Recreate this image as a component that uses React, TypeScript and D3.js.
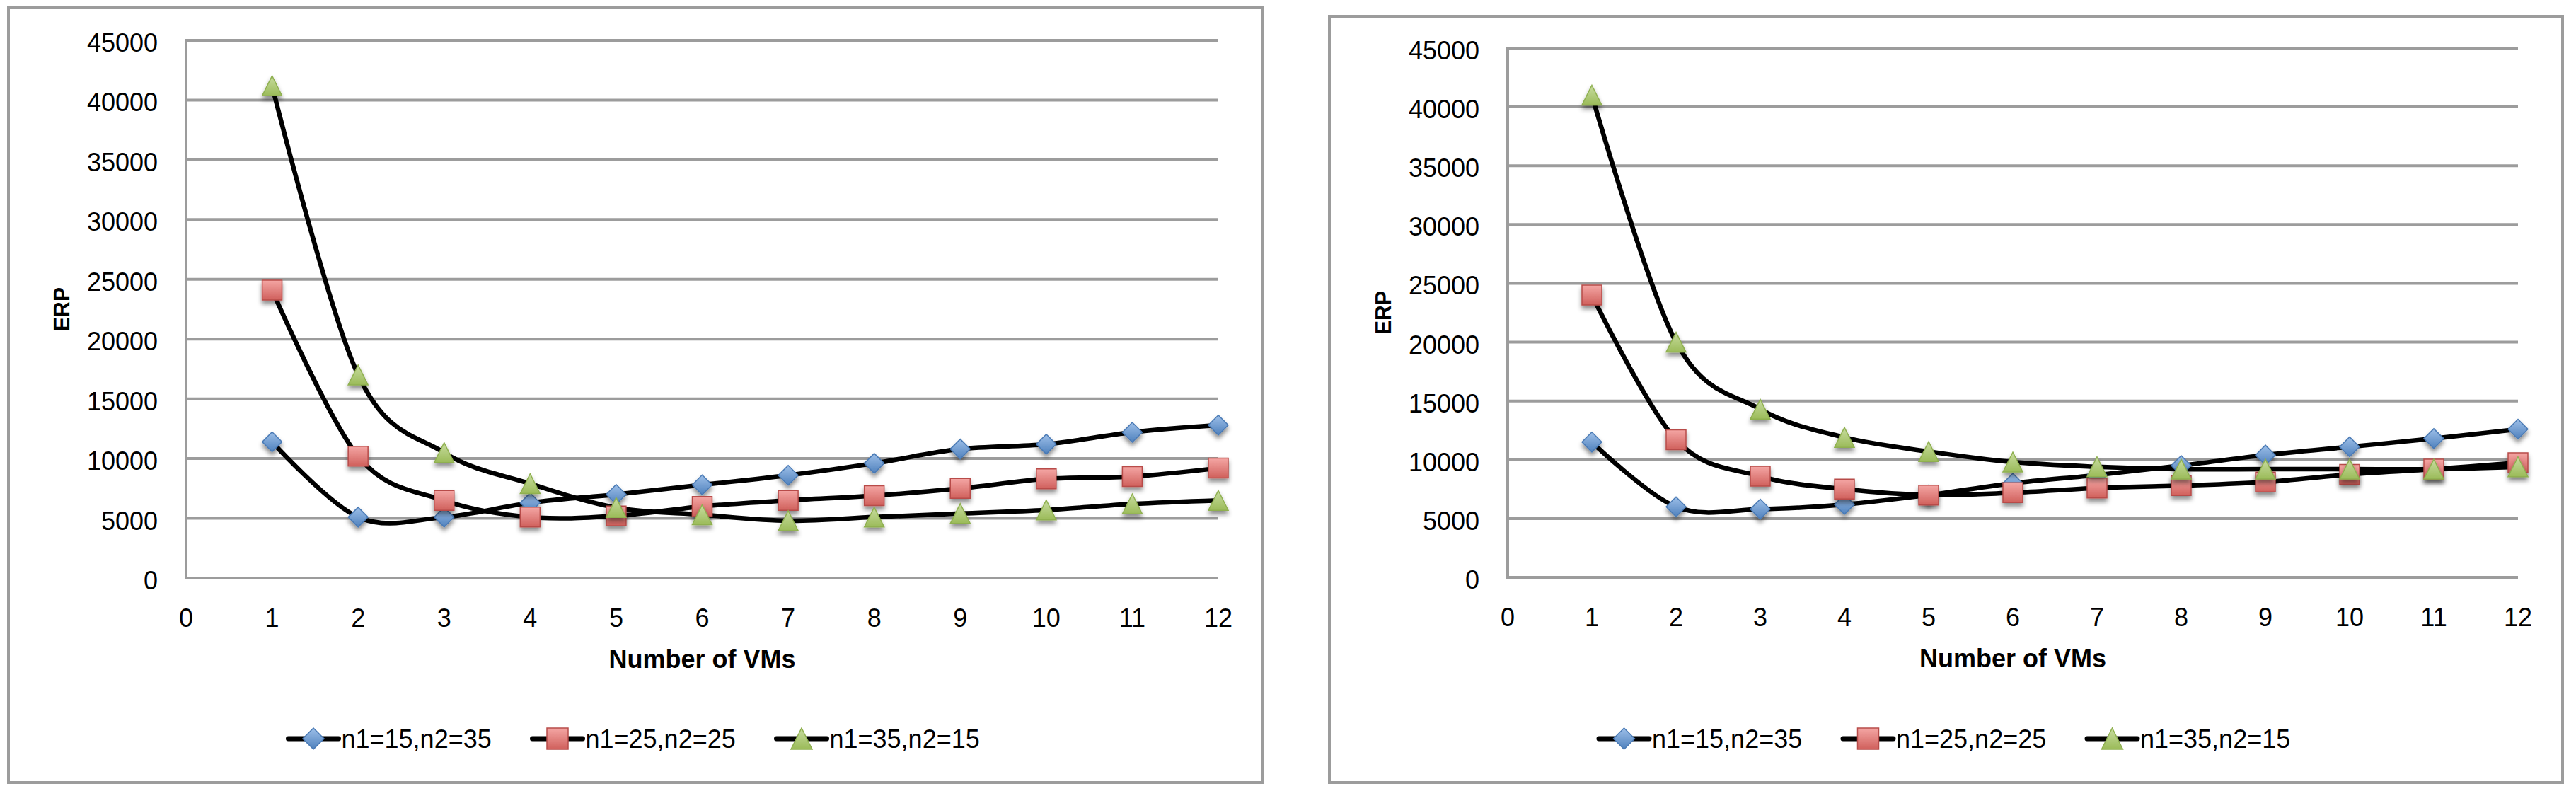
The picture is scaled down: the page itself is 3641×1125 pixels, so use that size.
import React, { useRef, useEffect } from "react";
import * as d3 from "d3";

// x values (number of VMs) and axis ticks
const vmCounts = [1, 2, 3, 4, 5, 6, 7, 8, 9, 10, 11, 12];
const xTickValues = [0, 1, 2, 3, 4, 5, 6, 7, 8, 9, 10, 11, 12];
const yTickValues = [0, 5000, 10000, 15000, 20000, 25000, 30000, 35000, 40000, 45000];
const seriesNames = ["n1=15,n2=35", "n1=25,n2=25", "n1=35,n2=15"];

// left chart
const leftN15 = [11400, 5100, 5100, 6300, 7000, 7800, 8600, 9600, 10800, 11200, 12200, 12800];
const leftN25 = [24100, 10200, 6500, 5100, 5200, 6000, 6500, 6900, 7500, 8300, 8500, 9200];
const leftN35 = [41200, 17000, 10500, 7900, 5900, 5300, 4800, 5100, 5400, 5700, 6200, 6500];

// right chart
const rightN15 = [11500, 6000, 5800, 6200, 7000, 8000, 8700, 9500, 10400, 11100, 11800, 12600];
const rightN25 = [24000, 11700, 8600, 7500, 7000, 7200, 7600, 7800, 8100, 8750, 9200, 9750];
const rightN35 = [41000, 20000, 14300, 11900, 10700, 9800, 9400, 9200, 9200, 9200, 9200, 9400];

const GRID = "#9c9c9c";
const FONT = "'Liberation Sans', Arial, sans-serif";
const markerKinds = ["diamond", "square", "triangle"];
const markerFills = ["url(#gBlue)", "url(#gRed)", "url(#gGreen)"];
const markerStrokes = ["#4a7ab5", "#b84c49", "#8fb050"];

interface Layout {
    frame: { x: number; y: number; w: number; h: number };
    plot: { left: number; right: number; top: number; bottom: number };
}

const markerPath = (kind: string, cx: number, cy: number, s: number) => {
    const h = s / 2;
    if (kind === "diamond") return `M${cx},${cy - h}L${cx + h},${cy}L${cx},${cy + h}L${cx - h},${cy}Z`;
    if (kind === "square") return `M${cx - h},${cy - h}h${s}v${s}h${-s}Z`;
    return `M${cx},${cy - h}L${cx + h},${cy + h}L${cx - h},${cy + h}Z`;
};

const ErpPanel: React.FC<{ series: number[][]; layout: Layout }> = ({ series, layout }) => {
    const gRef = useRef<SVGGElement | null>(null);

    useEffect(() => {
        if (!gRef.current) return;
        const g = d3.select(gRef.current);
        g.selectAll("*").remove();

        const { frame, plot } = layout;

        const x = d3.scaleLinear().domain([0, 12]).range([plot.left, plot.right]);
        const y = d3.scaleLinear().domain([0, 45000]).range([plot.bottom, plot.top]);

        // chart frame
        g.append("rect")
            .attr("x", frame.x)
            .attr("y", frame.y)
            .attr("width", frame.w)
            .attr("height", frame.h)
            .attr("fill", "#fff")
            .attr("stroke", GRID)
            .attr("stroke-width", 4);

        // horizontal gridlines
        g.selectAll(".grid")
            .data(yTickValues)
            .enter()
            .append("line")
            .attr("x1", plot.left)
            .attr("x2", plot.right)
            .attr("y1", (d) => y(d))
            .attr("y2", (d) => y(d))
            .attr("stroke", GRID)
            .attr("stroke-width", 4);

        // y axis line
        g.append("line")
            .attr("x1", plot.left)
            .attr("x2", plot.left)
            .attr("y1", plot.top - 2)
            .attr("y2", plot.bottom + 2)
            .attr("stroke", GRID)
            .attr("stroke-width", 4);

        // y tick labels
        g.selectAll(".ytick")
            .data(yTickValues)
            .enter()
            .append("text")
            .attr("x", plot.left - 40)
            .attr("y", (d) => y(d) + 16)
            .attr("text-anchor", "end")
            .attr("font-family", FONT)
            .attr("font-size", 36)
            .attr("fill", "#000")
            .text((d) => String(d));

        // x tick labels
        g.selectAll(".xtick")
            .data(xTickValues)
            .enter()
            .append("text")
            .attr("x", (d) => x(d))
            .attr("y", plot.bottom + 69)
            .attr("text-anchor", "middle")
            .attr("font-family", FONT)
            .attr("font-size", 36)
            .attr("fill", "#000")
            .text((d) => String(d));

        // axis titles
        g.append("text")
            .attr("x", (plot.left + plot.right) / 2)
            .attr("y", plot.bottom + 127)
            .attr("text-anchor", "middle")
            .attr("font-family", FONT)
            .attr("font-size", 36)
            .attr("font-weight", "bold")
            .text("Number of VMs");

        const erpX = plot.left - 176;
        const erpY = (plot.top + plot.bottom) / 2;
        g.append("text")
            .attr("transform", `translate(${erpX + 11},${erpY}) rotate(-90)`)
            .attr("text-anchor", "middle")
            .attr("font-family", FONT)
            .attr("font-size", 31)
            .attr("font-weight", "bold")
            .attr("textLength", 62)
            .attr("lengthAdjust", "spacingAndGlyphs")
            .text("ERP");

        // smoothed lines
        const line = d3
            .line<number>()
            .x((_, i) => x(vmCounts[i]))
            .y((d) => y(d))
            .curve(d3.curveCardinal.tension(0));

        g.selectAll(".series")
            .data(series)
            .enter()
            .append("path")
            .attr("d", (d) => line(d))
            .attr("fill", "none")
            .attr("stroke", "#000")
            .attr("stroke-width", 6.5)
            .attr("stroke-linejoin", "round");

        // markers
        series.forEach((values, si) => {
            g.selectAll(`.m${si}`)
                .data(values)
                .enter()
                .append("path")
                .attr("d", (d, i) => markerPath(markerKinds[si], x(vmCounts[i]), y(d), 28))
                .attr("fill", markerFills[si])
                .attr("stroke", markerStrokes[si])
                .attr("stroke-width", 1.5)
                .attr("filter", "url(#shadow)");
        });

        // legend
        const itemStep = 345;
        const lineLen = 71;
        const legendW = 2 * itemStep + lineLen + 220;
        const legendX = frame.x + frame.w / 2 - legendW / 2;
        const legendY = frame.y + frame.h - 62;
        seriesNames.forEach((name, si) => {
            const lx = legendX + si * itemStep;
            g.append("line")
                .attr("x1", lx)
                .attr("x2", lx + lineLen)
                .attr("y1", legendY)
                .attr("y2", legendY)
                .attr("stroke", "#000")
                .attr("stroke-width", 7)
                .attr("stroke-linecap", "round");
            g.append("path")
                .attr("d", markerPath(markerKinds[si], lx + lineLen / 2, legendY, 30))
                .attr("fill", markerFills[si])
                .attr("stroke", markerStrokes[si])
                .attr("stroke-width", 1.5);
            g.append("text")
                .attr("x", lx + lineLen + 4)
                .attr("y", legendY + 13)
                .attr("font-family", FONT)
                .attr("font-size", 36)
                .attr("fill", "#000")
                .text(name);
        });
    }, [series, layout]);

    return <g ref={gRef}></g>;
};

const leftLayout: Layout = {
    frame: { x: 12, y: 11, w: 1772, h: 1095 },
    plot: { left: 263, right: 1722, top: 57, bottom: 817 },
};

const rightLayout: Layout = {
    frame: { x: 1879, y: 23, w: 1743, h: 1083 },
    plot: { left: 2131, right: 3559, top: 68, bottom: 816 },
};

const leftSeries = [leftN15, leftN25, leftN35];
const rightSeries = [rightN15, rightN25, rightN35];

const App: React.FC = () => {
    return (
        <svg
            width={3641}
            height={1125}
            style={{ position: "absolute", left: 0, top: 0, background: "#fff" }}
        >
            <defs>
                <linearGradient id="gBlue" x1="0" y1="0" x2="0" y2="1">
                    <stop offset="0%" stopColor="#9dbfe8" />
                    <stop offset="100%" stopColor="#4f81bd" />
                </linearGradient>
                <linearGradient id="gRed" x1="0" y1="0" x2="0" y2="1">
                    <stop offset="0%" stopColor="#f4a6a4" />
                    <stop offset="100%" stopColor="#d0605c" />
                </linearGradient>
                <linearGradient id="gGreen" x1="0" y1="0" x2="0" y2="1">
                    <stop offset="0%" stopColor="#c8dca0" />
                    <stop offset="100%" stopColor="#9bbb59" />
                </linearGradient>
                <filter id="shadow" x="-50%" y="-50%" width="200%" height="200%">
                    <feDropShadow dx="0" dy="5" stdDeviation="3" floodColor="#000" floodOpacity="0.45" />
                </filter>
            </defs>
            <rect x={0} y={0} width={3641} height={1125} fill="#fff" />
            <ErpPanel series={leftSeries} layout={leftLayout} />
            <ErpPanel series={rightSeries} layout={rightLayout} />
        </svg>
    );
};

export default App;
